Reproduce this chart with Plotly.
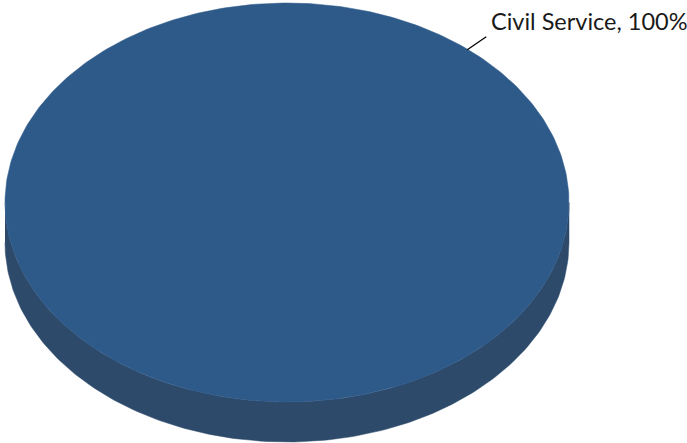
import numpy as np
import plotly.graph_objects as go

# Data
categories = ["Civil Service"]
values = [100]
top_colors = ["#2E5A8A"]
side_colors = ["#2D4A6B"]

W, H = 687, 443
cx, cy = 287, 202.5
rx, ry = 282, 199.5
depth = 40

fig = go.Figure()

total = sum(values)
start = 90.0  # degrees, start at top, clockwise
for cat, v, tc, sc in zip(categories, values, top_colors, side_colors):
    sweep = 360.0 * v / total
    angs = np.radians(np.linspace(start, start - sweep, 400))
    # side wall (visible lower half)
    lo = np.radians(np.linspace(180, 360, 200))
    xs_top = cx + rx * np.cos(lo)
    ys_top = cy - ry * np.sin(lo)
    xs = np.concatenate([xs_top, xs_top[::-1]])
    ys = np.concatenate([ys_top, (ys_top + depth)[::-1]])
    fig.add_trace(go.Scatter(x=xs, y=ys, fill="toself", fillcolor=sc, mode="lines",
                             line=dict(color=sc, width=0.5), hoverinfo="skip", showlegend=False))
    # top face
    if sweep < 360:
        px = np.concatenate([[cx], cx + rx * np.cos(angs), [cx]])
        py = np.concatenate([[cy], cy - ry * np.sin(angs), [cy]])
    else:
        px = cx + rx * np.cos(angs)
        py = cy - ry * np.sin(angs)
    fig.add_trace(go.Scatter(x=px, y=py, fill="toself", fillcolor=tc, mode="lines",
                             line=dict(color=tc, width=0.5), hoverinfo="skip", showlegend=False))
    # label with leader line
    la = np.radians(50)
    ex, ey = cx + rx * np.cos(la), cy - ry * np.sin(la)
    fig.add_trace(go.Scatter(x=[ex - 1, ex + 18], y=[ey, ey - 13], mode="lines",
                             line=dict(color="#000000", width=1.3), hoverinfo="skip", showlegend=False))
    pct = round(100 * v / total)
    fig.add_annotation(x=ex + 21, y=21, xref="x", yref="y", text=f"{cat}, {pct}%",
                       showarrow=False, xanchor="left", yanchor="middle",
                       font=dict(family="Lato", size=23.5, color="#1a1a1a"))

fig.update_xaxes(range=[0, W], visible=False, fixedrange=True)
fig.update_yaxes(range=[H, 0], visible=False, fixedrange=True)
fig.update_layout(width=W, height=H, margin=dict(l=0, r=0, t=0, b=0),
                  paper_bgcolor="white", plot_bgcolor="white", hovermode=False)
fig.write_html("out.html", config={"displayModeBar": False},
               post_script="document.body.style.margin='0';document.body.style.overflow='hidden';")
